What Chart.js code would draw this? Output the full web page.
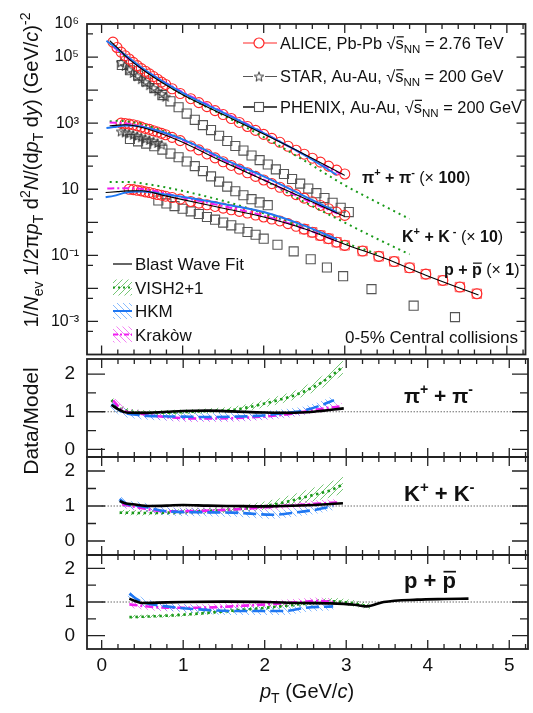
<!DOCTYPE html>
<html>
<head>
<meta charset="utf-8">
<script src="https://cdn.jsdelivr.net/npm/chart.js"></script>
<style>
  html, body { margin: 0; padding: 0; background: #fff; }
  #wrap { position: relative; width: 533px; height: 713px; overflow: hidden; }
  canvas { position: absolute; left: 0; }
</style>
</head>
<body>
<div id="wrap">
  <canvas id="cTop" width="533" height="362" style="top:0px"></canvas>
  <canvas id="cPi" width="533" height="130" style="top:356px"></canvas>
  <canvas id="cK" width="533" height="104" style="top:454px"></canvas>
  <canvas id="cP" width="533" height="161" style="top:552px"></canvas>
</div>
<script>
// ---- spectra (top panel), pT in GeV/c ----
const aliPiPt = [0.14,0.19,0.24,0.29,0.34,0.39,0.44,0.49,0.54,0.59,0.64,0.69,0.74,0.79,0.87,0.97,1.1,1.2,1.3,1.4,1.5,1.6,1.7,1.8,1.9,2.0,2.1,2.2,2.3,2.4,2.5,2.6,2.7,2.8,2.9,3.0];
const aliPi = [2.82e5,1.95e5,1.41e5,1.10e5,8.7e4,6.9e4,5.5e4,4.47e4,3.72e4,3.09e4,2.57e4,2.14e4,1.74e4,1.48e4,1.10e4,7.9e3,5.5e3,4.17e3,3.16e3,2.4e3,1.82e3,1.38e3,1.05e3,794,603,457,347,263,200,151,115,87,66,50,38,29];
const aliKPt = [0.24,0.29,0.34,0.39,0.44,0.49,0.54,0.59,0.64,0.69,0.74,0.79,0.87,0.97,1.1,1.2,1.3,1.4,1.5,1.6,1.7,1.8,1.9,2.0,2.1,2.2,2.3,2.4,2.5,2.6,2.7,2.8,2.9,3.0];
const aliK = [1000,977,933,891,832,759,692,646,589,537,490,447,372,295,204,155,117,89,68,52.5,40.7,31.6,24.5,19.1,14.8,11.5,8.9,6.9,5.4,4.17,3.24,2.57,2.04,1.62];
const aliPPt = [0.34,0.39,0.44,0.49,0.54,0.59,0.64,0.69,0.74,0.79,0.87,0.97,1.1,1.2,1.3,1.4,1.5,1.6,1.7,1.8,1.9,2.0,2.1,2.2,2.3,2.4,2.5,2.6,2.7,2.8,2.9,3.0,3.22,3.42,3.61,3.8,4.0,4.21,4.42,4.63];
const aliP = [10.0,9.77,9.33,8.91,8.32,7.94,7.41,6.92,6.61,6.17,5.62,5.01,4.27,3.80,3.39,3.02,2.69,2.40,2.14,1.91,1.66,1.45,1.26,1.10,0.91,0.76,0.62,0.50,0.40,0.32,0.25,0.20,0.135,0.093,0.065,0.042,0.027,0.0174,0.011,0.0069];

const starPiPt = [0.24,0.29,0.34,0.39,0.44,0.49,0.54,0.59,0.64,0.69,0.74,0.79];
const starPi = [6.9e4,5.4e4,4.17e4,3.31e4,2.63e4,2.14e4,1.74e4,1.41e4,1.15e4,9.3e3,7.6e3,6.3e3];
const starKPt = [0.24,0.29,0.34,0.39,0.44,0.49,0.54,0.59,0.64,0.69,0.74];
const starK = [562,525,490,447,407,372,339,309,282,251,224];

const phxPiPt = [0.25,0.35,0.45,0.55,0.65,0.75,0.85,0.95,1.05,1.15,1.25,1.35,1.45,1.55,1.65,1.75,1.85,1.95,2.05,2.15,2.25,2.35,2.45,2.55,2.65,2.75,2.85,2.95,3.05];
const phxPi = [5.75e4,3.98e4,2.75e4,1.82e4,1.15e4,7.08e3,4.57e3,3.02e3,1.95e3,1.26e3,871,617,417,288,204,148,105,76,56,40,29,20.4,14.8,10.5,7.6,5.4,3.9,2.75,2.04];
const phxKPt = [0.35,0.45,0.55,0.65,0.75,0.85,0.95,1.05,1.15,1.25,1.35,1.45,1.55,1.65,1.75,1.85,1.95,2.05];
const phxK = [331,282,240,200,158,120,93,69,50,35.5,24.5,17,12,8.7,6.6,5.0,4.0,3.3];
const phxPPt = [0.7,0.8,0.9,1.0,1.1,1.2,1.3,1.4,1.5,1.6,1.7,1.8,1.9,2.0,2.17,2.37,2.58,2.78,2.98,3.33,3.85,4.36];
const phxP = [4.57,3.72,3.09,2.57,2.14,1.78,1.45,1.20,0.98,0.81,0.65,0.51,0.42,0.32,0.209,0.132,0.076,0.043,0.0234,0.0095,0.0030,0.00135];

// ---- model curves (top panel) ----
const bwPiPt = [0.1,0.2,0.3,0.5,0.75,1.0,1.5,2.0,2.5,3.0];
const bwPi = [3.16e5,1.86e5,1.05e5,4.27e4,1.66e4,7.24e3,1.82e3,468,115,26.3];
const bwKPt = [0.1,0.2,0.3,0.5,0.75,1.0,1.5,2.0,2.5,3.0];
const bwK = [830,870,890,741,468,263,67.6,19.1,5.3,1.5];
const bwPPt = [0.05,0.2,0.3,0.5,0.75,1.0,1.5,2.0,2.5,3.0,3.5,4.0,4.65];
const bwP = [7.94,8.5,8.9,9.0,6.6,4.85,2.66,1.45,0.64,0.217,0.08,0.025,0.0063];

const vishPiPt = [0.1,0.2,0.4,0.7,1.0,1.5,2.0,2.5,3.0,3.4,3.8];
const vishPi = [2.63e5,1.58e5,6.6e4,2.09e4,7.24e3,1.74e3,380,74,13.2,4.0,1.26];
const vishKPt = [0.1,0.2,0.5,1.0,1.5,2.0,2.5,3.0,3.4,3.8];
const vishK = [1120,1175,926,325,77,19.1,4.15,0.98,0.316,0.107];
const vishPPt = [0.1,0.3,0.6,1.0,1.5,2.0,2.5,3.0,3.4];
const vishP = [16.6,16.6,13.8,8.9,4.47,1.86,0.676,0.24,0.11];

const hkmPiPt = [0.06,0.2,0.5,1.0,1.5,2.0,2.5,2.9];
const hkmPi = [3.1e5,1.74e5,4.68e4,8.3e3,2.09e3,501,110,27.5];
const hkmKPt = [0.06,0.15,0.3,0.5,1.0,1.5,2.0,2.5,2.9];
const hkmK = [708,760,850,776,324,83,24.5,6.2,2.04];
const hkmPPt = [0.05,0.15,0.3,0.5,0.8,1.2,1.6,2.0,2.5,2.9];
const hkmP = [5.75,6.31,7.94,8.51,6.92,4.90,3.24,2.04,0.794,0.309];

const krkPiPt = [0.15,0.25,0.5,1.0,1.5,2.0,2.5,2.95];
const krkPi = [2.0e5,1.26e5,4.47e4,8.7e3,2.19e3,513,110,28.8];
const krkKPt = [0.1,0.3,0.5,1.0,1.5,2.0,2.5,2.95];
const krkK = [1047,977,794,309,76,19.5,5.0,1.66];
const krkPPt = [0.07,0.2,0.35,0.6,1.0,1.5,2.0,2.5,2.9];
const krkP = [10.5,10.7,10.7,9.33,5.62,3.09,1.58,0.646,0.269];

// ---- data/model ratios ----
const rBwPiPt = [0.12,0.2,0.3,0.5,0.8,1.0,1.3,1.6,2.0,2.3,2.6,2.97];
const rBwPi = [1.18,1.07,0.98,0.97,1.0,1.02,1.03,1.01,0.98,0.97,1.0,1.09];
const rVishPiPt = [0.12,0.2,0.37,0.6,1.0,1.3,1.6,1.8,2.0,2.2,2.43,2.7,2.96];
const rVishPi = [1.31,1.12,1.0,0.97,0.99,1.02,1.05,1.12,1.22,1.33,1.49,1.78,2.19];
const rVishPiHi = [1.42,1.22,1.08,1.04,1.06,1.09,1.13,1.21,1.32,1.44,1.62,1.94,2.36];
const rVishPiLo = [1.20,1.02,0.93,0.91,0.93,0.96,0.98,1.03,1.12,1.22,1.37,1.63,1.98];
const rHkmPiPt = [0.12,0.25,0.47,0.75,1.0,1.3,1.6,1.9,2.23,2.51,2.7,2.85];
const rHkmPi = [1.2,1.0,0.91,0.88,0.87,0.86,0.87,0.89,0.96,1.05,1.18,1.31];
const rKrkPiPt = [0.14,0.25,0.47,0.75,1.0,1.3,1.6,1.9,2.23,2.45,2.64,2.95];
const rKrkPi = [1.3,1.05,0.95,0.87,0.83,0.82,0.83,0.86,0.92,0.99,1.06,1.15];

const rBwKPt = [0.22,0.3,0.38,0.59,0.8,1.0,1.3,1.6,2.0,2.23,2.6,2.96];
const rBwK = [1.14,1.07,1.05,1.0,1.01,1.03,1.01,1.0,0.99,1.0,1.03,1.08];
const rVishKPt = [0.22,0.5,0.79,1.2,1.61,2.0,2.23,2.5,2.84,2.96];
const rVishK = [0.81,0.80,0.81,0.85,0.9,1.0,1.1,1.26,1.48,1.62];
const rVishKHi = [0.89,0.88,0.89,0.94,1.0,1.13,1.25,1.45,1.72,1.88];
const rVishKLo = [0.74,0.73,0.74,0.77,0.81,0.89,0.97,1.09,1.27,1.38];
const rHkmKPt = [0.22,0.3,0.47,0.79,1.2,1.61,2.1,2.4,2.64,2.84];
const rHkmK = [1.2,1.06,1.0,0.85,0.82,0.81,0.75,0.82,0.9,1.0];
const rKrkKPt = [0.25,0.4,0.79,1.2,1.61,2.0,2.23,2.6,2.9];
const rKrkK = [1.05,0.98,0.85,0.86,0.9,0.96,1.0,1.06,1.1];

const rBwPPt = [0.34,0.42,0.5,0.8,1.0,1.5,2.02,2.43,2.8,3.1,3.25,3.46,3.87,4.2,4.5];
const rBwP = [1.1,1.02,0.97,0.99,1.0,1.01,1.0,0.97,0.96,0.92,0.87,1.0,1.07,1.09,1.1];
const rVishPPt = [0.34,0.6,1.0,1.5,2.02,2.5,2.84,3.1,3.29];
const rVishP = [0.55,0.57,0.62,0.72,0.83,0.95,1.02,0.95,0.87];
const rVishPHi = [0.61,0.63,0.68,0.79,0.91,1.04,1.12,1.05,0.97];
const rVishPLo = [0.50,0.52,0.57,0.66,0.76,0.87,0.93,0.86,0.78];
const rHkmPPt = [0.34,0.42,0.5,0.79,1.2,1.61,2.23,2.51,2.84];
const rHkmP = [1.25,1.1,1.0,0.87,0.78,0.73,0.73,0.83,0.87];
const rKrkPPt = [0.34,0.6,0.79,1.2,1.6,2.02,2.4,2.64,2.84];
const rKrkP = [0.93,0.86,0.83,0.83,0.87,0.93,0.99,1.03,1.0];

const unityPt = [0, 5.23];
const unity = [1, 1];

const yTickVals = [1e6, 1e5, 1e3, 10, 1e-1, 1e-3];
const yTickText = ['10⁶', '10⁵', '10³', '10', '10⁻¹', '10⁻³'];

// ---- styling ----
const FF = '"Liberation Sans", Arial, Helvetica, sans-serif';
Chart.defaults.font.family = FF;
Chart.defaults.color = '#111';
const RED = '#ff2828', GRN = '#1a9a1a', BLU = '#1f77f2', MAG = '#f01ef0', GREY = '#555';
const xMin = -0.18, xMax = 5.23;

function xy(xs, ys) { return xs.map((x, i) => ({ x, y: ys[i] })); }

function hatch(color, dir) {
  const c = document.createElement('canvas');
  c.width = c.height = 6;
  const g = c.getContext('2d');
  g.strokeStyle = color; g.lineWidth = 1;
  g.beginPath();
  if (dir > 0) { g.moveTo(0, 6); g.lineTo(6, 0); g.moveTo(-1, 1); g.lineTo(1, -1); g.moveTo(5, 7); g.lineTo(7, 5); }
  else { g.moveTo(0, 0); g.lineTo(6, 6); g.moveTo(5, -1); g.lineTo(7, 1); g.moveTo(-1, 5); g.lineTo(1, 7); }
  g.stroke();
  return g.createPattern(c, 'repeat');
}
const hG = hatch('rgba(60,175,60,0.7)', 1);
const hB = hatch('rgba(70,150,255,0.65)', -1);
const hM = hatch('rgba(240,60,240,0.65)', -1);

function starImg(size, color) {
  const c = document.createElement('canvas');
  c.width = c.height = size;
  const g = c.getContext('2d');
  const r = size / 2 - 1, ri = r * 0.42, cx = size / 2, cy = size / 2 + 0.5;
  g.beginPath();
  for (let i = 0; i < 10; i++) {
    const a = -Math.PI / 2 + i * Math.PI / 5, rr = i % 2 ? ri : r;
    g.lineTo(cx + rr * Math.cos(a), cy + rr * Math.sin(a));
  }
  g.closePath();
  g.strokeStyle = color; g.lineWidth = 1; g.stroke();
  return c;
}
const STAR = starImg(12, '#333');

function line(data, color, width, dash) {
  return { data, showLine: true, borderColor: color, borderWidth: width, borderDash: dash || [],
    pointRadius: 0, fill: false, cubicInterpolationMode: 'monotone' };
}
function marks(data, style, color, r, w) {
  return { data, showLine: false, pointStyle: style, pointRadius: r, borderColor: color,
    backgroundColor: 'rgba(0,0,0,0)', borderWidth: w || 1.1 };
}
function band(lo, hi, pat) {
  return [
    { data: lo, showLine: true, borderWidth: 0, pointRadius: 0, fill: false, cubicInterpolationMode: 'monotone' },
    { data: hi, showLine: true, borderWidth: 0, pointRadius: 0, fill: '-1', backgroundColor: pat, cubicInterpolationMode: 'monotone' }
  ];
}

// rich text: parts = [text, size, flags(b,i,o), dy]
function rich(ctx, x, y, parts, align) {
  const fnt = p => ((p[2] || '').includes('i') ? 'italic ' : '') + ((p[2] || '').includes('b') ? 'bold ' : '') + p[1] + 'px ' + FF;
  let w = 0;
  for (const p of parts) { ctx.font = fnt(p); w += ctx.measureText(p[0]).width; }
  let cx = align === 'right' ? x - w : align === 'center' ? x - w / 2 : x;
  for (const p of parts) {
    ctx.font = fnt(p);
    const tw = ctx.measureText(p[0]).width, yy = y + (p[3] || 0);
    ctx.fillText(p[0], cx, yy);
    if ((p[2] || '').includes('o')) ctx.fillRect(cx + 1, yy - p[1] * 0.78, tw - 1, Math.max(1, p[1] / 13));
    cx += tw;
  }
}

// ---- inward ticks + frame ----
const xTicks = [];
for (let i = 0; i <= 26; i++) xTicks.push([i * 0.2, i % 5 === 0 ? 9 : 5]);
const logTicks = [];
for (let n = -4; n <= 6; n++) { logTicks.push([Math.pow(10, n), 11, 9]); logTicks.push([5 * Math.pow(10, n - 1), 6, 5]); }
const ratioTicks = [[-0.5, 9, 8], [0, 18, 16], [0.5, 9, 8], [1, 18, 16], [1.5, 9, 8], [2, 18, 16]];

const frame = {
  id: 'frame',
  afterDatasetsDraw(chart, _a, o) {
    const { ctx, chartArea: a } = chart, xs = chart.scales.x, ys = chart.scales.y;
    ctx.save();
    ctx.strokeStyle = '#222';
    ctx.lineWidth = 1.3;
    ctx.setLineDash([]);
    ctx.beginPath();
    for (const [v, len] of o.xt) {
      const px = xs.getPixelForValue(v);
      if (px <= a.left + 1 || px >= a.right - 1) continue;
      ctx.moveTo(px, a.bottom); ctx.lineTo(px, a.bottom - len);
      ctx.moveTo(px, a.top); ctx.lineTo(px, a.top + len);
    }
    for (const [v, len, lenR] of o.yt) {
      const py = ys.getPixelForValue(v);
      if (py <= a.top + 1 || py >= a.bottom - 1) continue;
      ctx.moveTo(a.left, py); ctx.lineTo(a.left + len, py);
      ctx.moveTo(a.right, py); ctx.lineTo(a.right - lenR, py);
    }
    ctx.stroke();
    ctx.lineWidth = 1.8;
    ctx.strokeRect(a.left, a.top, a.right - a.left, a.bottom - a.top);
    ctx.restore();
  }
};

// keep the chart area exactly where the layout padding puts it
function noPad(s) { s.paddingTop = 0; s.paddingBottom = 0; s.paddingLeft = 0; s.paddingRight = 0; }

function mk(id, datasets, yScale, o) {
  const xScale = {
    type: 'linear', min: xMin, max: xMax, display: !!o.xLab,
    grid: { display: false, drawTicks: false }, border: { display: false },
    ticks: { stepSize: 1, includeBounds: false, padding: 5, font: { size: 19 } }
  };
  if (o.xLab) xScale.afterFit = s => { s.height = 64; noPad(s); };
  return new Chart(document.getElementById(id), {
    type: 'scatter',
    data: { datasets },
    options: {
      responsive: false, animation: false, devicePixelRatio: 1, events: [],
      layout: { padding: o.pad },
      plugins: { legend: { display: false }, tooltip: { enabled: false }, frame: { xt: xTicks, yt: o.yt } },
      scales: { x: xScale, y: yScale }
    },
    plugins: [frame, { id: 'txt', afterDraw: o.draw }]
  });
}

function ratioY(min) {
  return {
    type: 'linear', min, max: 2.4,
    grid: { display: false, drawTicks: false }, border: { display: false },
    ticks: { stepSize: 1, includeBounds: false, padding: 12, font: { size: 19 } },
    afterFit: s => { s.width = 87; noPad(s); }
  };
}

// ---- top panel ----
const aliSys = xy(aliPPt, aliP).filter(p => p.x > 2.4);
const topSets = [
  line(xy(bwPiPt, bwPi), '#000', 1.1), line(xy(bwKPt, bwK), '#000', 1.1), line(xy(bwPPt, bwP), '#000', 1.1),
  line(xy(hkmPiPt, hkmPi), BLU, 2), line(xy(hkmKPt, hkmK), BLU, 2), line(xy(hkmPPt, hkmP), BLU, 2),
  line(xy(krkPiPt, krkPi), MAG, 2, [7, 3, 2, 3]), line(xy(krkKPt, krkK), MAG, 2, [7, 3, 2, 3]), line(xy(krkPPt, krkP), MAG, 2, [7, 3, 2, 3]),
  line(xy(vishPiPt, vishPi), GRN, 2, [2, 4]), line(xy(vishKPt, vishK), GRN, 2, [2, 4]), line(xy(vishPPt, vishP), GRN, 2, [2, 4]),
  marks(xy(aliPiPt, aliPi), 'circle', RED, 5), marks(xy(aliKPt, aliK), 'circle', RED, 5), marks(xy(aliPPt, aliP), 'circle', RED, 5),
  marks(aliSys, 'rect', 'rgba(255,40,40,0.8)', 6.6, 0.9),
  marks(xy(starPiPt, starPi), STAR, '#333', 4), marks(xy(starKPt, starK), STAR, '#333', 4),
  marks(xy(phxPiPt, phxPi), 'rect', GREY, 6.4), marks(xy(phxKPt, phxK), 'rect', GREY, 6.4), marks(xy(phxPPt, phxP), 'rect', GREY, 6.4)
];

const sqrtPart = (pre, post) => [[pre, 16.4], ['√', 16.4], ['s', 16.4, 'o'], ['NN', 11.5, '', 4], [post, 16.4]];

mk('cTop', topSets, {
  type: 'logarithmic', min: 1e-4, max: 1e6,
  grid: { display: false, drawTicks: false }, border: { display: false },
  afterBuildTicks: s => { s.ticks = yTickVals.map(value => ({ value })); },
  ticks: { autoSkip: false, padding: 8, font: { size: 16 }, callback: (v, i) => yTickText[i] },
  afterFit: s => { s.width = 87; noPad(s); }
}, {
  pad: { top: 24, bottom: 3, left: 0, right: 5 }, yt: logTicks,
  draw(chart) {
    const ctx = chart.ctx;
    ctx.save();
    ctx.fillStyle = '#111';
    ctx.textBaseline = 'alphabetic';
    // y title
    ctx.save();
    ctx.translate(38, 170);
    ctx.rotate(-Math.PI / 2);
    rich(ctx, 0, 0, [['1/', 20], ['N', 20, 'i'], ['ev', 14, '', 5], [' 1/2π', 20], ['p', 20, 'i'], ['T', 14, '', 5],
      [' d', 20], ['2', 14, '', -8], ['N', 20, 'i'], ['/(d', 20], ['p', 20, 'i'], ['T', 14, '', 5], [' d', 20], ['y', 20, 'i'],
      [') (GeV/', 20], ['c', 20, 'i'], [')', 20], ['-2', 14, '', -8]], 'center');
    ctx.restore();

    // experiment legend
    const rowsY = [43, 76.5, 107];
    ctx.lineWidth = 1.2;
    ctx.strokeStyle = RED; ctx.beginPath(); ctx.moveTo(243, rowsY[0]); ctx.lineTo(277, rowsY[0]); ctx.stroke();
    ctx.fillStyle = '#fff'; ctx.beginPath(); ctx.arc(259, rowsY[0], 5, 0, 2 * Math.PI); ctx.fill(); ctx.stroke();
    ctx.strokeStyle = GREY; ctx.beginPath(); ctx.moveTo(243, rowsY[1]); ctx.lineTo(277, rowsY[1]); ctx.stroke();
    ctx.fillStyle = '#fff'; ctx.fillRect(253, rowsY[1] - 5, 12, 11);
    ctx.drawImage(STAR, 253, rowsY[1] - 6);
    ctx.strokeStyle = '#111'; ctx.lineWidth = 1.5; ctx.beginPath(); ctx.moveTo(243, rowsY[2]); ctx.lineTo(277, rowsY[2]); ctx.stroke();
    ctx.fillStyle = '#fff'; ctx.fillRect(254.5, rowsY[2] - 4.5, 9, 9);
    ctx.strokeStyle = GREY; ctx.lineWidth = 1.1; ctx.strokeRect(254.5, rowsY[2] - 4.5, 9, 9);
    ctx.fillStyle = '#111';
    rich(ctx, 280, 49, sqrtPart('ALICE, Pb-Pb ', ' = 2.76 TeV'));
    rich(ctx, 280, 82, sqrtPart('STAR, Au-Au, ', ' = 200 GeV'));
    rich(ctx, 280, 112.5, sqrtPart('PHENIX, Au-Au, ', ' = 200 GeV'));

    // model legend
    const items = [
      ['Blast Wave Fit', null, '#000', 1.2, []],
      ['VISH2+1', hG, GRN, 2, [2, 3]],
      ['HKM', hB, BLU, 2, []],
      ['Krakòw', hM, MAG, 2, [5, 2, 2, 2]]
    ];
    items.forEach((it, k) => {
      const base = 270 + k * 23.5, mid = base - 6;
      if (it[1]) { ctx.fillStyle = it[1]; ctx.fillRect(113, mid - 8, 19, 16); }
      ctx.strokeStyle = it[2]; ctx.lineWidth = it[3]; ctx.setLineDash(it[4]);
      ctx.beginPath(); ctx.moveTo(113, mid); ctx.lineTo(132, mid); ctx.stroke();
      ctx.setLineDash([]);
      ctx.fillStyle = '#111';
      rich(ctx, 135, base, [[it[0], 17]]);
    });

    // species labels
    rich(ctx, 362, 183, [['π', 16, 'b'], ['+', 11, 'b', -7], [' + ', 16, 'b'], ['π', 16, 'b'], ['-', 11, 'b', -7], [' (', 16], ['×', 16], [' 100', 16, 'b'], [')', 16]]);
    rich(ctx, 402, 242, [['K', 16, 'b'], ['+', 11, 'b', -7], [' + ', 16, 'b'], ['K', 16, 'b'], [' -', 11, 'b', -7], [' (', 16], ['×', 16], [' 10', 16, 'b'], [')', 16]]);
    rich(ctx, 444, 275, [['p', 16, 'b'], [' + ', 16, 'b'], ['p', 16, 'bo'], [' (', 16], ['×', 16], [' 1', 16, 'b'], [')', 16]]);
    rich(ctx, 518, 343, [['0-5% Central collisions', 17]], 'right');
    ctx.restore();
  }
});

// ---- ratio panels ----
function ratioSets(bw, hkm, krk, vish, lo, hi) {
  return [
    line(bw, '#000', 2.6),
    line(hkm, BLU, 2.6, [13, 5]),
    line(krk, MAG, 2.6, [8, 3, 2, 3]),
    line(vish, GRN, 2.6, [2.5, 3.5]),
    line(xy(unityPt, unity), '#222', 1, [1, 2]),
    line(hkm, hB, 8),
    line(krk, hM, 7),
    ...band(lo, hi, hG)
  ];
}

mk('cPi', ratioSets(xy(rBwPiPt, rBwPi), xy(rHkmPiPt, rHkmPi), xy(rKrkPiPt, rKrkPi), xy(rVishPiPt, rVishPi),
  xy(rVishPiPt, rVishPiLo), xy(rVishPiPt, rVishPiHi)), ratioY(-0.2), {
  pad: { top: 3, bottom: 29, left: 0, right: 5 }, yt: ratioTicks,
  draw(chart) {
    const ctx = chart.ctx;
    ctx.save(); ctx.fillStyle = '#111'; ctx.textBaseline = 'alphabetic';
    rich(ctx, 404, 47, [['π', 21, 'b'], ['+', 14, 'b', -9], [' + ', 21, 'b'], ['π', 21, 'b'], ['-', 14, 'b', -9]]);
    ctx.translate(38, 65); ctx.rotate(-Math.PI / 2);
    rich(ctx, 0, 0, [['Data/Model', 21]], 'center');
    ctx.restore();
  }
});

mk('cK', ratioSets(xy(rBwKPt, rBwK), xy(rHkmKPt, rHkmK), xy(rKrkKPt, rKrkK), xy(rVishKPt, rVishK),
  xy(rVishKPt, rVishKLo), xy(rVishKPt, rVishKHi)), ratioY(-0.4), {
  pad: { top: 3, bottom: 3, left: 0, right: 5 }, yt: ratioTicks,
  draw(chart) {
    const ctx = chart.ctx;
    ctx.save(); ctx.fillStyle = '#111'; ctx.textBaseline = 'alphabetic';
    rich(ctx, 404, 47, [['K', 22, 'b'], ['+', 15, 'b', -9], [' + ', 22, 'b'], ['K', 22, 'b'], ['-', 15, 'b', -9]]);
    ctx.restore();
  }
});

mk('cP', ratioSets(xy(rBwPPt, rBwP), xy(rHkmPPt, rHkmP), xy(rKrkPPt, rKrkP), xy(rVishPPt, rVishP),
  xy(rVishPPt, rVishPLo), xy(rVishPPt, rVishPHi)), ratioY(-0.4), {
  pad: { top: 3, bottom: 0, left: 0, right: 5 }, yt: ratioTicks, xLab: true,
  draw(chart) {
    const ctx = chart.ctx;
    ctx.save(); ctx.fillStyle = '#111'; ctx.textBaseline = 'alphabetic';
    rich(ctx, 404, 36, [['p', 22, 'b'], [' + ', 22, 'b'], ['p', 22, 'bo']]);
    rich(ctx, 307, 146, [['p', 20, 'i'], ['T', 14, '', 5], [' (GeV/', 20], ['c', 20, 'i'], [')', 20]], 'center');
    ctx.restore();
  }
});
</script>
</body>
</html>
